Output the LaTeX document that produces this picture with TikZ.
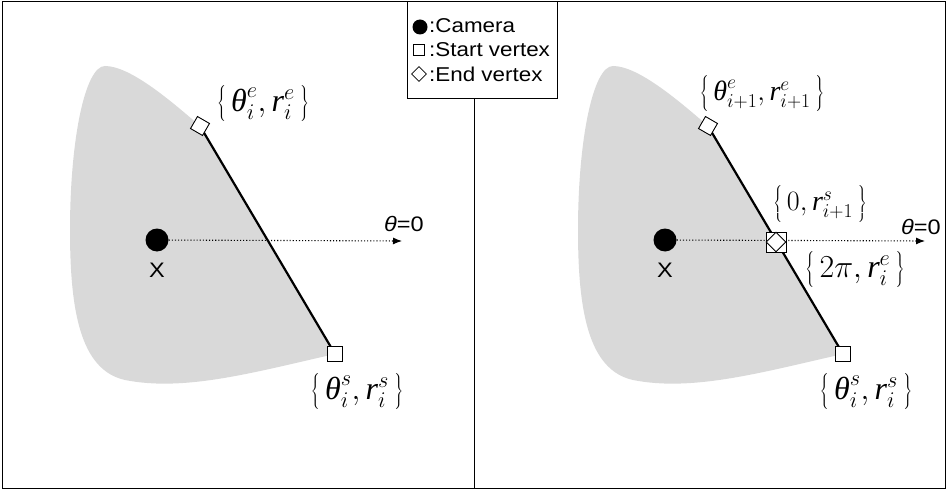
\RequirePackage{fix-cm}
\documentclass[tikz,border=0pt]{standalone}
\usepackage{fontspec}
\setmainfont{Liberation Serif}
\setsansfont{Liberation Sans}
\usetikzlibrary{arrows.meta,shapes.geometric}
\newcommand\thI{\mbox{\itshape θ}}
\newcommand\rI{\mbox{\itshape r}}
\newcommand\wide[1]{\scalebox{1.12}[1]{#1}}
\newcommand\brc[1]{\ensuremath{\left\{\,\vrule height 0.72em depth 0.36em width 0pt #1\,\right\}}}
\tikzset{
  blob/.style={fill=black!15, draw=none},
  seg/.style={line width=2.2pt},
  cam/.style={circle, fill=black, minimum size=23pt, inner sep=0pt},
  startv/.style={rectangle, draw=black, fill=white, line width=0.9pt, minimum size=15pt, inner sep=0pt},
  endv/.style={diamond, draw=black, fill=white, line width=0.9pt, minimum size=20pt, inner sep=0pt, rotate=15},
  ray/.style={dotted, line width=1.1pt, -{Latex[length=9pt,width=7pt]}},
  lab/.style={font=\fontsize{32}{38}\selectfont, inner sep=0pt},
  labsm/.style={font=\fontsize{28}{34}\selectfont, inner sep=0pt},
  sanslab/.style={font=\sffamily\fontsize{21}{24}\selectfont, inner sep=0pt},
  legtxt/.style={font=\sffamily\fontsize{20}{22}\selectfont, anchor=west, inner sep=0pt}
}
\begin{document}
\begin{tikzpicture}[x=1pt,y=-1pt]
\useasboundingbox (0,0) rectangle (947,489);
% frames
\draw[line width=1pt] (2,2) rectangle (945,488);
\draw[line width=1pt] (474,99) -- (474,488);
\draw[line width=1pt] (407,2) rectangle (557,99);
% legend
\node[cam, minimum size=15pt] (lc) at (420,27) {};
\node[legtxt] (lct) at (429,26) {\wide{:Camera}};
\node[startv, minimum size=11pt, line width=0.7pt] (ls) at (419,50) {};
\node[legtxt] (lst) at (429,50) {\wide{:Start vertex}};
\node[endv, minimum size=15pt, rotate=-15, line width=0.7pt] (le) at (419,74) {};
\node[legtxt] (let) at (429,74) {\wide{:End vertex}};
% ---------- left panel ----------
\begin{scope}
\fill[blob] (200,126) -- (335,354) .. controls (255,372) and (185,392) .. (125,380)
  .. controls (80,370) and (70,310) .. (70,230) .. controls (70,140) and (85,66) .. (105,66)
  .. controls (130,66) and (170,100) .. (200,126) -- cycle;
\end{scope}
\node[cam] (camL) at (157,240) {};
\node[sanslab] (xL) at (157,270) {\wide{X}};
\coordinate (tipL) at (402,241);
\draw[ray] (camL) -- (tipL);
\node[sanslab] (thL) at (404,224) {\wide{\itshape θ\upshape =0}};
\coordinate (dL) at (200,126);
\coordinate (sL) at (335,354);
\draw[seg] (dL) -- (sL);
\node[endv] (dvL) at (dL) {};
\node[startv] (svL) at (sL) {};
\node[lab] (eLabL) at (263,104) {\brc{\thI_i^e, \rI_i^e}};
\node[lab] (sLabL) at (357,392) {\brc{\thI_i^s, \rI_i^s}};
% ---------- right panel ----------
\begin{scope}[xshift=508pt]
\fill[blob] (200,126) -- (335,354) .. controls (255,372) and (185,392) .. (125,380)
  .. controls (80,370) and (70,310) .. (70,230) .. controls (70,140) and (85,66) .. (105,66)
  .. controls (130,66) and (170,100) .. (200,126) -- cycle;
\end{scope}
\node[cam] (camR) at (665,240) {};
\node[sanslab] (xR) at (665,270) {\wide{X}};
\coordinate (tipR) at (925,241);
\coordinate (dR) at (708,126);
\coordinate (sR) at (843,354);
\draw[seg] (dR) -- (sR);
\draw[ray] (camR) -- (tipR);
\node[sanslab] (thR) at (921,227) {\wide{\itshape θ\upshape =0}};
\node[endv] (dvR) at (dR) {};
\node[startv] (svR) at (sR) {};
\node[startv, minimum size=20pt] (mixS) at (776,242) {};
\node[endv, minimum size=20pt, rotate=-15] (mixD) at (776,242) {};
\node[labsm] (eLabR) at (762,94) {\brc{\thI_{i+1}^e, \rI_{i+1}^e}};
\node[labsm] (zLabR) at (820,204) {\brc{0, \rI_{i+1}^s}};
\node[lab] (tpLabR) at (855,270) {\brc{2\pi, \rI_i^e}};
\node[lab] (sLabR) at (866,392) {\brc{\thI_i^s, \rI_i^s}};
\end{tikzpicture}
\end{document}
